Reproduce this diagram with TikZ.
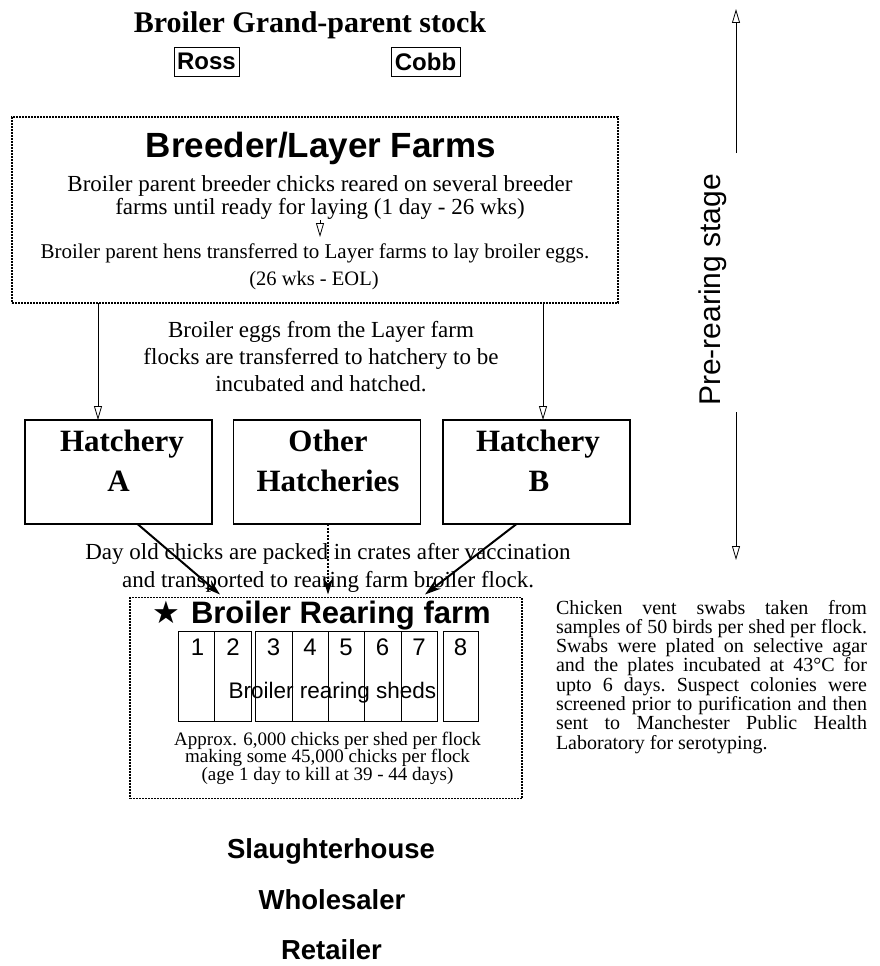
\documentclass[tikz,border=0pt]{standalone}
\usepackage{fontspec}
\setmainfont{Liberation Serif}
\setsansfont{Liberation Sans}
\newfontfamily\symfont{DejaVu Sans}
\usetikzlibrary{arrows.meta,calc}
\newcommand\myfs[1]{\fontsize{#1pt}{#1pt}\selectfont}
\newcommand\myfsb[2]{\fontsize{#1pt}{#2pt}\selectfont}
\begin{document}
\begin{tikzpicture}[x=1pt,y=-1pt,
  every node/.style={inner sep=0pt, outer sep=0pt},
  dotbox/.style={draw, line width=1.4pt, dash pattern=on 2pt off 1pt},
  hbox/.style={draw, line width=1.3pt, minimum width=187pt, minimum height=104pt},
  smallbox/.style={draw, line width=0.9pt, minimum height=29pt, font=\sffamily\bfseries\myfs{24}},
  shedbox/.style={draw, line width=0.9pt, minimum height=90pt},
  openarrow/.style={-{Triangle[open,width=8pt,length=14pt]}, line width=0.8pt},
  bigarrow/.style={-{Stealth[width=10pt,length=16pt]}, line width=2pt},
  dasharrow/.style={-{Stealth[width=10pt,length=16pt]}, line width=1.2pt, dash pattern=on 2pt off 1.5pt},
  serif/.style={anchor=base, font=\myfs{#1}},
  serifbold/.style={anchor=base, font=\bfseries\myfs{#1}},
  sans/.style={anchor=base, font=\sffamily\myfs{#1}},
  sansbold/.style={anchor=base, font=\sffamily\bfseries\myfs{#1}}
]
\useasboundingbox (0,0) rectangle (880,966);

% top
\node[serifbold=30] (gp) at (310,33) {Broiler Grand-parent stock};
\node[smallbox, minimum width=65pt] (ross) at (206.5,61.5) {Ross};
\node[smallbox, minimum width=69pt] (cobb) at (425.5,61.5) {Cobb};

% breeder / layer farms
\node[dotbox, minimum width=606pt, minimum height=186pt] (breeder) at (315,210) {};
\node[sansbold=35] (btitle) at (321,157) {Breeder/Layer Farms};
\node[anchor=north, align=center, font=\myfsb{23}{21}] (bl12) at (320,176)
  {Broiler parent breeder chicks reared on several breeder\\farms until ready for laying (1 day - 26 wks)};
\coordinate (sa1) at (320,220);
\coordinate (sa2) at (320,237);
\draw[openarrow] (sa1) -- (sa2);
\node[serif=21] (bl3) at (315,258) {Broiler parent hens transferred to Layer farms to lay broiler eggs.};
\node[serif=20.5] (bl4) at (314,285) {(26 wks - EOL)};

% eggs text
\node[anchor=north, align=center, font=\myfsb{23}{27}] (eggs) at (321,321)
  {Broiler eggs from the Layer farm\\flocks are transferred to hatchery to be\\incubated and hatched.};

% hatcheries
\node[hbox] (hatchA) at (118.5,472) {};
\node[hbox] (hatchO) at (327,472) {};
\node[hbox] (hatchB) at (536.5,472) {};
\node[serifbold=31] (hA1) at (122,451) {Hatchery};
\node[serifbold=31] (hA2) at (118.5,491) {A};
\node[serifbold=31] (hO1) at (328,451) {Other};
\node[serifbold=31] (hO2) at (328,491) {Hatcheries};
\node[serifbold=31] (hB1) at (538,451) {Hatchery};
\node[serifbold=31] (hB2) at (539,491) {B};

\coordinate (ba1) at ($(breeder.south)+(-217,0)$);
\coordinate (ba2) at ($(breeder.south)+(228,0)$);
\draw[openarrow] (ba1) -- (ba1 |- hatchA.north);
\draw[openarrow] (ba2) -- (ba2 |- hatchB.north);

% rearing farm
\node[dotbox, minimum width=392pt, minimum height=201pt] (rear) at (326,698) {};

\draw[bigarrow] ($(hatchA.south)+(19,0)$) -- ($(rear.north)+(-106,-3)$);
\draw[dasharrow] ($(hatchO.south)+(1,0)$) -- ($(rear.north)+(2,-3)$);
\draw[bigarrow] ($(hatchB.south)+(-20,0)$) -- ($(rear.north)+(99,-3)$);

\node[anchor=north, align=center, font=\myfsb{23}{28}] (dayold) at (328,543)
  {Day old chicks are packed in crates after vaccination\\and transported to rearing farm broiler flock.};

\node[anchor=base, font=\symfont\myfs{31}] (star) at (166.5,623) {★};
\node[sansbold=31, anchor=base west] (rtitle) at (191,623) {Broiler Rearing farm};

\node[shedbox, minimum width=36pt] (s1) at (196,676) {};
\node[shedbox, minimum width=37pt] (s2) at (232.5,676) {};
\node[shedbox, minimum width=37pt] (s3) at (273.5,676) {};
\node[shedbox, minimum width=36pt] (s4) at (310,676) {};
\node[shedbox, minimum width=36pt] (s5) at (346,676) {};
\node[shedbox, minimum width=37pt] (s6) at (382.5,676) {};
\node[shedbox, minimum width=36pt] (s7) at (419,676) {};
\node[shedbox, minimum width=35pt] (s8) at (460.5,676) {};
\foreach \n/\x in {1/197.5,2/233,3/273.5,4/310,5/346,6/382.5,7/419,8/460.5}
  \node[sans=24] (n\n) at (\x,655) {\n};
\node[sans=22.5] (sheds) at (332.5,698) {Broiler rearing sheds};

\node[anchor=north, align=center, font=\myfsb{19}{17.5}] (approx) at (327.5,732)
  {Approx. 6,000 chicks per shed per flock\\making some 45,000 chicks per flock\\(age 1 day to kill at 39 - 44 days)};

% right text
\node[anchor=north west, text width=311pt, align=justify, font=\myfsb{20}{19.3}] (swab) at (556,600)
 {\frenchspacing Chicken vent swabs taken from\linebreak samples of 50 birds per shed per flock.\linebreak Swabs were plated on selective agar\linebreak and the plates incubated at 43°C for\linebreak upto 6 days. Suspect colonies were\linebreak screened prior to purification and then\linebreak sent to Manchester Public Health\linebreak Laboratory for serotyping.};

% bottom chain
\node[sansbold=27.5] (slaughter) at (331,858) {Slaughterhouse};
\node[sansbold=27.5] (wholesale) at (332,909) {Wholesaler};
\node[sansbold=27.5] (retail) at (331.5,959) {Retailer};

% pre-rearing stage
\node[rotate=90, font=\sffamily\myfs{30}] (pre) at (713,290) {Pre-rearing stage};
\coordinate (pt1) at (736,153);
\coordinate (pt2) at (736,9);
\coordinate (pb1) at (736,412);
\coordinate (pb2) at (736,560);
\draw[openarrow] (pt1) -- (pt2);
\draw[openarrow] (pb1) -- (pb2);
\end{tikzpicture}
\end{document}
